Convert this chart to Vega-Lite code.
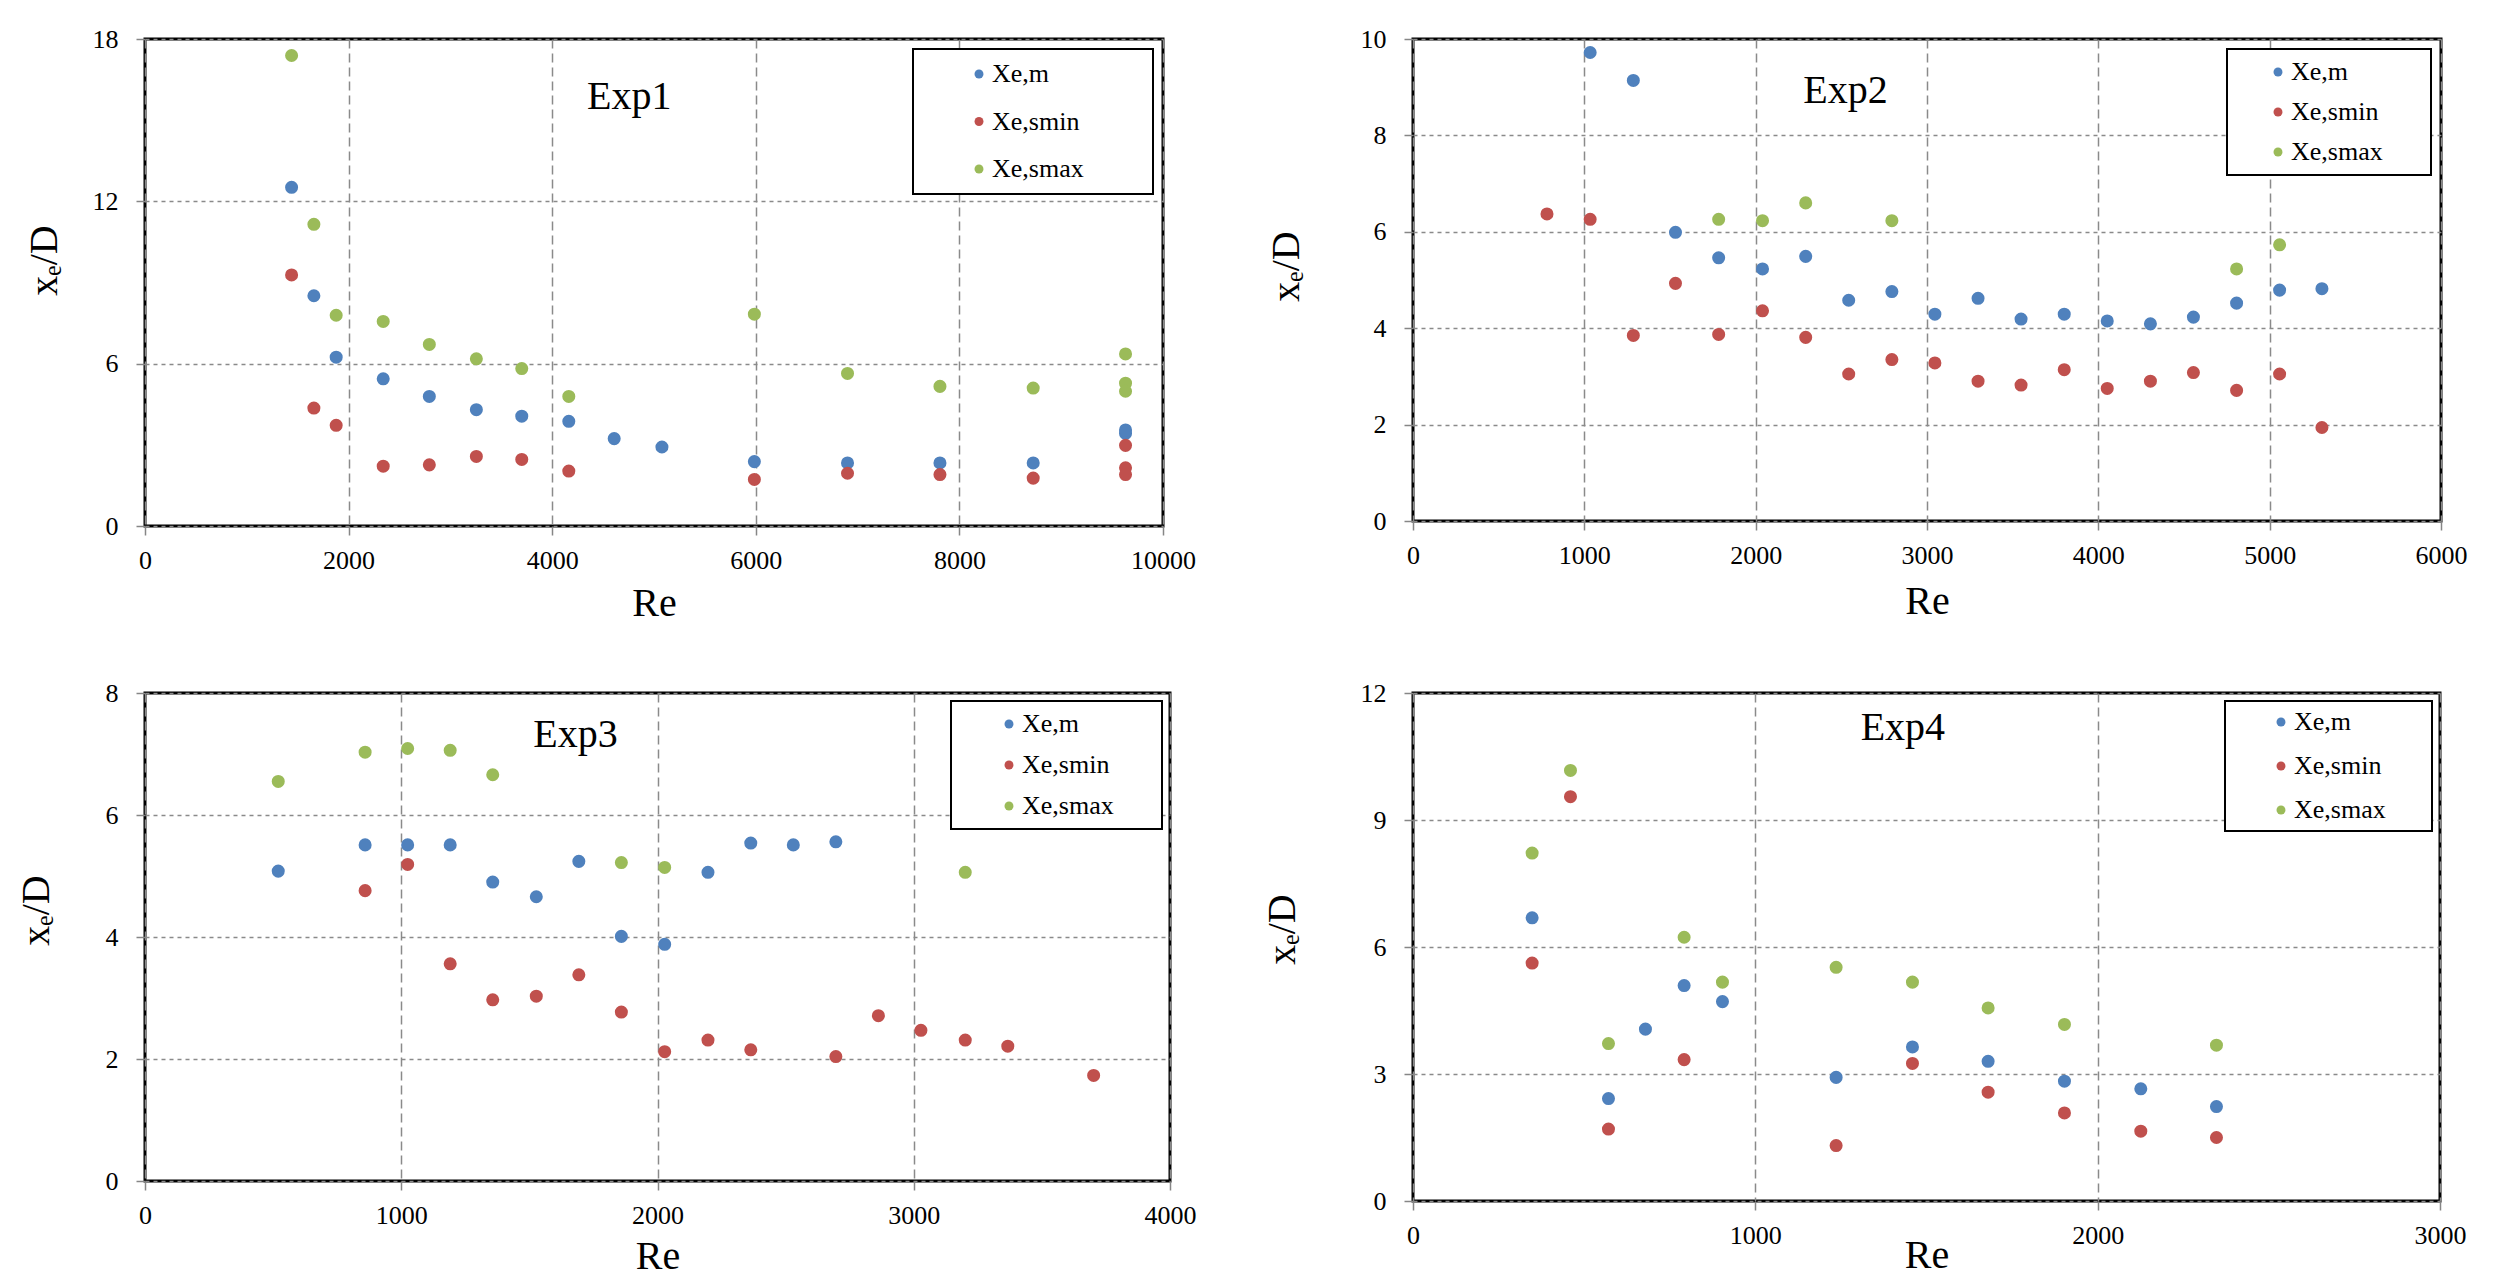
{
  "$schema": "https://vega.github.io/schema/vega-lite/v6.json",
  "background": "white",
  "padding": {"left": 14, "top": 24, "right": 10, "bottom": 5},
  "bounds": "flush",
  "columns": 2,
  "spacing": {"row": 167, "column": 243},
  "resolve": {"scale": {"color": "independent", "x": "independent", "y": "independent"}, "legend": {"color": "independent"}, "axis": {"x": "independent", "y": "independent"}},
  "datasets": {
    "pts": [
      {"exp": "Exp1", "series": "Xe,m", "Re": 1440, "xD": 12.52},
      {"exp": "Exp1", "series": "Xe,m", "Re": 1659, "xD": 8.51},
      {"exp": "Exp1", "series": "Xe,m", "Re": 1878, "xD": 6.24},
      {"exp": "Exp1", "series": "Xe,m", "Re": 2340, "xD": 5.44},
      {"exp": "Exp1", "series": "Xe,m", "Re": 2793, "xD": 4.79},
      {"exp": "Exp1", "series": "Xe,m", "Re": 3255, "xD": 4.30},
      {"exp": "Exp1", "series": "Xe,m", "Re": 3701, "xD": 4.06},
      {"exp": "Exp1", "series": "Xe,m", "Re": 4163, "xD": 3.87},
      {"exp": "Exp1", "series": "Xe,m", "Re": 4609, "xD": 3.23},
      {"exp": "Exp1", "series": "Xe,m", "Re": 5078, "xD": 2.92},
      {"exp": "Exp1", "series": "Xe,m", "Re": 5986, "xD": 2.38},
      {"exp": "Exp1", "series": "Xe,m", "Re": 6901, "xD": 2.33},
      {"exp": "Exp1", "series": "Xe,m", "Re": 7809, "xD": 2.33},
      {"exp": "Exp1", "series": "Xe,m", "Re": 8725, "xD": 2.33},
      {"exp": "Exp1", "series": "Xe,m", "Re": 9632, "xD": 3.42},
      {"exp": "Exp1", "series": "Xe,m", "Re": 9632, "xD": 3.55},
      {"exp": "Exp1", "series": "Xe,smin", "Re": 1440, "xD": 9.28},
      {"exp": "Exp1", "series": "Xe,smin", "Re": 1659, "xD": 4.36},
      {"exp": "Exp1", "series": "Xe,smin", "Re": 1878, "xD": 3.72},
      {"exp": "Exp1", "series": "Xe,smin", "Re": 2340, "xD": 2.21},
      {"exp": "Exp1", "series": "Xe,smin", "Re": 2793, "xD": 2.26},
      {"exp": "Exp1", "series": "Xe,smin", "Re": 3255, "xD": 2.57},
      {"exp": "Exp1", "series": "Xe,smin", "Re": 3701, "xD": 2.46},
      {"exp": "Exp1", "series": "Xe,smin", "Re": 4163, "xD": 2.03},
      {"exp": "Exp1", "series": "Xe,smin", "Re": 5986, "xD": 1.72},
      {"exp": "Exp1", "series": "Xe,smin", "Re": 6901, "xD": 1.95},
      {"exp": "Exp1", "series": "Xe,smin", "Re": 7809, "xD": 1.90},
      {"exp": "Exp1", "series": "Xe,smin", "Re": 8725, "xD": 1.77},
      {"exp": "Exp1", "series": "Xe,smin", "Re": 9632, "xD": 2.98},
      {"exp": "Exp1", "series": "Xe,smin", "Re": 9632, "xD": 2.15},
      {"exp": "Exp1", "series": "Xe,smin", "Re": 9632, "xD": 1.90},
      {"exp": "Exp1", "series": "Xe,smax", "Re": 1440, "xD": 17.39},
      {"exp": "Exp1", "series": "Xe,smax", "Re": 1659, "xD": 11.15},
      {"exp": "Exp1", "series": "Xe,smax", "Re": 1878, "xD": 7.79},
      {"exp": "Exp1", "series": "Xe,smax", "Re": 2340, "xD": 7.56},
      {"exp": "Exp1", "series": "Xe,smax", "Re": 2793, "xD": 6.71},
      {"exp": "Exp1", "series": "Xe,smax", "Re": 3255, "xD": 6.18},
      {"exp": "Exp1", "series": "Xe,smax", "Re": 3701, "xD": 5.82},
      {"exp": "Exp1", "series": "Xe,smax", "Re": 4163, "xD": 4.79},
      {"exp": "Exp1", "series": "Xe,smax", "Re": 5986, "xD": 7.83},
      {"exp": "Exp1", "series": "Xe,smax", "Re": 6901, "xD": 5.64},
      {"exp": "Exp1", "series": "Xe,smax", "Re": 7809, "xD": 5.16},
      {"exp": "Exp1", "series": "Xe,smax", "Re": 8725, "xD": 5.10},
      {"exp": "Exp1", "series": "Xe,smax", "Re": 9632, "xD": 6.36},
      {"exp": "Exp1", "series": "Xe,smax", "Re": 9632, "xD": 5.28},
      {"exp": "Exp1", "series": "Xe,smax", "Re": 9632, "xD": 4.98},

      {"exp": "Exp2", "series": "Xe,m", "Re": 1034, "xD": 9.72},
      {"exp": "Exp2", "series": "Xe,m", "Re": 1286, "xD": 9.14},
      {"exp": "Exp2", "series": "Xe,m", "Re": 1532, "xD": 5.99},
      {"exp": "Exp2", "series": "Xe,m", "Re": 1784, "xD": 5.46},
      {"exp": "Exp2", "series": "Xe,m", "Re": 2040, "xD": 5.23},
      {"exp": "Exp2", "series": "Xe,m", "Re": 2292, "xD": 5.49},
      {"exp": "Exp2", "series": "Xe,m", "Re": 2543, "xD": 4.58},
      {"exp": "Exp2", "series": "Xe,m", "Re": 2795, "xD": 4.76},
      {"exp": "Exp2", "series": "Xe,m", "Re": 3046, "xD": 4.29},
      {"exp": "Exp2", "series": "Xe,m", "Re": 3298, "xD": 4.62},
      {"exp": "Exp2", "series": "Xe,m", "Re": 3549, "xD": 4.19},
      {"exp": "Exp2", "series": "Xe,m", "Re": 3801, "xD": 4.29},
      {"exp": "Exp2", "series": "Xe,m", "Re": 4052, "xD": 4.15},
      {"exp": "Exp2", "series": "Xe,m", "Re": 4304, "xD": 4.09},
      {"exp": "Exp2", "series": "Xe,m", "Re": 4555, "xD": 4.23},
      {"exp": "Exp2", "series": "Xe,m", "Re": 4807, "xD": 4.52},
      {"exp": "Exp2", "series": "Xe,m", "Re": 5058, "xD": 4.79},
      {"exp": "Exp2", "series": "Xe,m", "Re": 5305, "xD": 4.82},
      {"exp": "Exp2", "series": "Xe,smin", "Re": 782, "xD": 6.37},
      {"exp": "Exp2", "series": "Xe,smin", "Re": 1034, "xD": 6.26},
      {"exp": "Exp2", "series": "Xe,smin", "Re": 1286, "xD": 3.85},
      {"exp": "Exp2", "series": "Xe,smin", "Re": 1532, "xD": 4.93},
      {"exp": "Exp2", "series": "Xe,smin", "Re": 1784, "xD": 3.87},
      {"exp": "Exp2", "series": "Xe,smin", "Re": 2040, "xD": 4.36},
      {"exp": "Exp2", "series": "Xe,smin", "Re": 2292, "xD": 3.81},
      {"exp": "Exp2", "series": "Xe,smin", "Re": 2543, "xD": 3.05},
      {"exp": "Exp2", "series": "Xe,smin", "Re": 2795, "xD": 3.35},
      {"exp": "Exp2", "series": "Xe,smin", "Re": 3046, "xD": 3.28},
      {"exp": "Exp2", "series": "Xe,smin", "Re": 3298, "xD": 2.90},
      {"exp": "Exp2", "series": "Xe,smin", "Re": 3549, "xD": 2.82},
      {"exp": "Exp2", "series": "Xe,smin", "Re": 3801, "xD": 3.14},
      {"exp": "Exp2", "series": "Xe,smin", "Re": 4052, "xD": 2.75},
      {"exp": "Exp2", "series": "Xe,smin", "Re": 4304, "xD": 2.90},
      {"exp": "Exp2", "series": "Xe,smin", "Re": 4555, "xD": 3.08},
      {"exp": "Exp2", "series": "Xe,smin", "Re": 4807, "xD": 2.71},
      {"exp": "Exp2", "series": "Xe,smin", "Re": 5058, "xD": 3.05},
      {"exp": "Exp2", "series": "Xe,smin", "Re": 5305, "xD": 1.94},
      {"exp": "Exp2", "series": "Xe,smax", "Re": 1784, "xD": 6.26},
      {"exp": "Exp2", "series": "Xe,smax", "Re": 2040, "xD": 6.23},
      {"exp": "Exp2", "series": "Xe,smax", "Re": 2292, "xD": 6.60},
      {"exp": "Exp2", "series": "Xe,smax", "Re": 2795, "xD": 6.23},
      {"exp": "Exp2", "series": "Xe,smax", "Re": 4807, "xD": 5.23},
      {"exp": "Exp2", "series": "Xe,smax", "Re": 5058, "xD": 5.73},

      {"exp": "Exp3", "series": "Xe,m", "Re": 520, "xD": 5.08},
      {"exp": "Exp3", "series": "Xe,m", "Re": 859, "xD": 5.51},
      {"exp": "Exp3", "series": "Xe,m", "Re": 1025, "xD": 5.51},
      {"exp": "Exp3", "series": "Xe,m", "Re": 1191, "xD": 5.51},
      {"exp": "Exp3", "series": "Xe,m", "Re": 1357, "xD": 4.90},
      {"exp": "Exp3", "series": "Xe,m", "Re": 1527, "xD": 4.66},
      {"exp": "Exp3", "series": "Xe,m", "Re": 1693, "xD": 5.24},
      {"exp": "Exp3", "series": "Xe,m", "Re": 1859, "xD": 4.01},
      {"exp": "Exp3", "series": "Xe,m", "Re": 2028, "xD": 3.88},
      {"exp": "Exp3", "series": "Xe,m", "Re": 2197, "xD": 5.06},
      {"exp": "Exp3", "series": "Xe,m", "Re": 2364, "xD": 5.54},
      {"exp": "Exp3", "series": "Xe,m", "Re": 2530, "xD": 5.51},
      {"exp": "Exp3", "series": "Xe,m", "Re": 2696, "xD": 5.56},
      {"exp": "Exp3", "series": "Xe,smin", "Re": 859, "xD": 4.76},
      {"exp": "Exp3", "series": "Xe,smin", "Re": 1025, "xD": 5.19},
      {"exp": "Exp3", "series": "Xe,smin", "Re": 1191, "xD": 3.56},
      {"exp": "Exp3", "series": "Xe,smin", "Re": 1357, "xD": 2.97},
      {"exp": "Exp3", "series": "Xe,smin", "Re": 1527, "xD": 3.03},
      {"exp": "Exp3", "series": "Xe,smin", "Re": 1693, "xD": 3.38},
      {"exp": "Exp3", "series": "Xe,smin", "Re": 1859, "xD": 2.77},
      {"exp": "Exp3", "series": "Xe,smin", "Re": 2028, "xD": 2.12},
      {"exp": "Exp3", "series": "Xe,smin", "Re": 2197, "xD": 2.31},
      {"exp": "Exp3", "series": "Xe,smin", "Re": 2364, "xD": 2.15},
      {"exp": "Exp3", "series": "Xe,smin", "Re": 2696, "xD": 2.04},
      {"exp": "Exp3", "series": "Xe,smin", "Re": 2862, "xD": 2.71},
      {"exp": "Exp3", "series": "Xe,smin", "Re": 3028, "xD": 2.47},
      {"exp": "Exp3", "series": "Xe,smin", "Re": 3201, "xD": 2.31},
      {"exp": "Exp3", "series": "Xe,smin", "Re": 3367, "xD": 2.21},
      {"exp": "Exp3", "series": "Xe,smin", "Re": 3702, "xD": 1.73},
      {"exp": "Exp3", "series": "Xe,smax", "Re": 520, "xD": 6.55},
      {"exp": "Exp3", "series": "Xe,smax", "Re": 859, "xD": 7.03},
      {"exp": "Exp3", "series": "Xe,smax", "Re": 1025, "xD": 7.09},
      {"exp": "Exp3", "series": "Xe,smax", "Re": 1191, "xD": 7.06},
      {"exp": "Exp3", "series": "Xe,smax", "Re": 1357, "xD": 6.66},
      {"exp": "Exp3", "series": "Xe,smax", "Re": 1859, "xD": 5.22},
      {"exp": "Exp3", "series": "Xe,smax", "Re": 2028, "xD": 5.14},
      {"exp": "Exp3", "series": "Xe,smax", "Re": 3201, "xD": 5.06},

      {"exp": "Exp4", "series": "Xe,m", "Re": 348, "xD": 6.69},
      {"exp": "Exp4", "series": "Xe,m", "Re": 571, "xD": 2.42},
      {"exp": "Exp4", "series": "Xe,m", "Re": 679, "xD": 4.06},
      {"exp": "Exp4", "series": "Xe,m", "Re": 792, "xD": 5.09},
      {"exp": "Exp4", "series": "Xe,m", "Re": 904, "xD": 4.71},
      {"exp": "Exp4", "series": "Xe,m", "Re": 1236, "xD": 2.92},
      {"exp": "Exp4", "series": "Xe,m", "Re": 1459, "xD": 3.64},
      {"exp": "Exp4", "series": "Xe,m", "Re": 1680, "xD": 3.30},
      {"exp": "Exp4", "series": "Xe,m", "Re": 1903, "xD": 2.83},
      {"exp": "Exp4", "series": "Xe,m", "Re": 2126, "xD": 2.65},
      {"exp": "Exp4", "series": "Xe,m", "Re": 2347, "xD": 2.23},
      {"exp": "Exp4", "series": "Xe,smin", "Re": 348, "xD": 5.62},
      {"exp": "Exp4", "series": "Xe,smin", "Re": 460, "xD": 9.55},
      {"exp": "Exp4", "series": "Xe,smin", "Re": 571, "xD": 1.70},
      {"exp": "Exp4", "series": "Xe,smin", "Re": 792, "xD": 3.34},
      {"exp": "Exp4", "series": "Xe,smin", "Re": 1236, "xD": 1.31},
      {"exp": "Exp4", "series": "Xe,smin", "Re": 1459, "xD": 3.25},
      {"exp": "Exp4", "series": "Xe,smin", "Re": 1680, "xD": 2.57},
      {"exp": "Exp4", "series": "Xe,smin", "Re": 1903, "xD": 2.08},
      {"exp": "Exp4", "series": "Xe,smin", "Re": 2126, "xD": 1.65},
      {"exp": "Exp4", "series": "Xe,smin", "Re": 2347, "xD": 1.50},
      {"exp": "Exp4", "series": "Xe,smax", "Re": 348, "xD": 8.22},
      {"exp": "Exp4", "series": "Xe,smax", "Re": 460, "xD": 10.17},
      {"exp": "Exp4", "series": "Xe,smax", "Re": 571, "xD": 3.72},
      {"exp": "Exp4", "series": "Xe,smax", "Re": 792, "xD": 6.23},
      {"exp": "Exp4", "series": "Xe,smax", "Re": 904, "xD": 5.17},
      {"exp": "Exp4", "series": "Xe,smax", "Re": 1236, "xD": 5.52},
      {"exp": "Exp4", "series": "Xe,smax", "Re": 1459, "xD": 5.17},
      {"exp": "Exp4", "series": "Xe,smax", "Re": 1680, "xD": 4.56},
      {"exp": "Exp4", "series": "Xe,smax", "Re": 1903, "xD": 4.17},
      {"exp": "Exp4", "series": "Xe,smax", "Re": 2347, "xD": 3.68}
    ]
  },
  "concat": [
    {
      "width": 1018,
      "height": 487,
      "layer": [
        {
          "data": {"name": "pts"},
          "transform": [{"filter": "datum.exp === 'Exp1'"}],
          "mark": {"type": "point", "filled": true, "opacity": 1, "size": 170},
          "encoding": {
            "x": {"field": "Re", "type": "quantitative", "scale": {"domain": [0, 10000], "nice": false},
                  "axis": {"values": [0, 2000, 4000, 6000, 8000, 10000], "format": "d", "title": "Re", "titleY": 77}},
            "y": {"field": "xD", "type": "quantitative", "scale": {"domain": [0, 18], "nice": false},
                  "axis": {"values": [0, 6, 12, 18], "format": "d", "title": "xₑ/D", "titleX": -101, "titleY": 221}},
            "color": {"field": "series", "type": "nominal",
                      "scale": {"domain": ["Xe,m", "Xe,smin", "Xe,smax"], "range": ["#4F81BD", "#C0504D", "#9BBB59"]},
                      "legend": {"orient": "top-right", "offset": 10, "padding": 12, "rowPadding": 21.5, "symbolOffset": 41, "labelOffset": 0, "labelFontSize": 26, "labelExpr": "datum.label + '\u2800\u2800\u2800'", "title": null}}
          }
        },
        {
          "data": {"values": [{"label": "Exp1"}]},
          "mark": {"type": "text", "fontSize": 40, "font": "Liberation Serif", "color": "#000", "baseline": "middle"},
          "encoding": {"x": {"datum": 4757}, "y": {"datum": 15.85}, "text": {"field": "label"}}
        }
      ]
    },
    {
      "width": 1028,
      "height": 482,
      "layer": [
        {
          "data": {"name": "pts"},
          "transform": [{"filter": "datum.exp === 'Exp2'"}],
          "mark": {"type": "point", "filled": true, "opacity": 1, "size": 170},
          "encoding": {
            "x": {"field": "Re", "type": "quantitative", "scale": {"domain": [0, 6000], "nice": false},
                  "axis": {"values": [0, 1000, 2000, 3000, 4000, 5000, 6000], "format": "d", "title": "Re", "titleY": 80}},
            "y": {"field": "xD", "type": "quantitative", "scale": {"domain": [0, 10], "nice": false},
                  "axis": {"values": [0, 2, 4, 6, 8, 10], "format": "d", "title": "xₑ/D", "titleX": -127, "titleY": 227}},
            "color": {"field": "series", "type": "nominal",
                      "scale": {"domain": ["Xe,m", "Xe,smin", "Xe,smax"], "range": ["#4F81BD", "#C0504D", "#9BBB59"]},
                      "legend": {"orient": "top-right", "offset": 10, "padding": 10, "rowPadding": 14, "symbolOffset": 28, "labelOffset": 0, "labelFontSize": 26, "labelExpr": "datum.label + '\u2800\u2800'", "title": null}}
          }
        },
        {
          "data": {"values": [{"label": "Exp2"}]},
          "mark": {"type": "text", "fontSize": 40, "font": "Liberation Serif", "color": "#000", "baseline": "middle"},
          "encoding": {"x": {"datum": 2524}, "y": {"datum": 8.92}, "text": {"field": "label"}}
        }
      ]
    },
    {
      "width": 1025,
      "height": 488,
      "layer": [
        {
          "data": {"name": "pts"},
          "transform": [{"filter": "datum.exp === 'Exp3'"}],
          "mark": {"type": "point", "filled": true, "opacity": 1, "size": 170},
          "encoding": {
            "x": {"field": "Re", "type": "quantitative", "scale": {"domain": [0, 4000], "nice": false},
                  "axis": {"values": [0, 1000, 2000, 3000, 4000], "format": "d", "title": "Re", "titleY": 75}},
            "y": {"field": "xD", "type": "quantitative", "scale": {"domain": [0, 8], "nice": false},
                  "axis": {"values": [0, 2, 4, 6, 8], "format": "d", "title": "xₑ/D", "titleX": -109, "titleY": 217}},
            "color": {"field": "series", "type": "nominal",
                      "scale": {"domain": ["Xe,m", "Xe,smin", "Xe,smax"], "range": ["#4F81BD", "#C0504D", "#9BBB59"]},
                      "legend": {"orient": "top-right", "offset": 8, "padding": 10, "rowPadding": 15, "symbolOffset": 35, "labelOffset": 0, "labelFontSize": 26, "labelExpr": "datum.label + '\u2800\u2800'", "title": null}}
          }
        },
        {
          "data": {"values": [{"label": "Exp3"}]},
          "mark": {"type": "text", "fontSize": 40, "font": "Liberation Serif", "color": "#000", "baseline": "middle"},
          "encoding": {"x": {"datum": 1680}, "y": {"datum": 7.31}, "text": {"field": "label"}}
        }
      ]
    },
    {
      "width": 1027,
      "height": 508,
      "layer": [
        {
          "data": {"name": "pts"},
          "transform": [{"filter": "datum.exp === 'Exp4'"}],
          "mark": {"type": "point", "filled": true, "opacity": 1, "size": 170},
          "encoding": {
            "x": {"field": "Re", "type": "quantitative", "scale": {"domain": [0, 3000], "nice": false},
                  "axis": {"values": [0, 1000, 2000, 3000], "format": "d", "title": "Re", "titleY": 54}},
            "y": {"field": "xD", "type": "quantitative", "scale": {"domain": [0, 12], "nice": false},
                  "axis": {"values": [0, 3, 6, 9, 12], "format": "d", "title": "xₑ/D", "titleX": -131, "titleY": 236}},
            "color": {"field": "series", "type": "nominal",
                      "scale": {"domain": ["Xe,m", "Xe,smin", "Xe,smax"], "range": ["#4F81BD", "#C0504D", "#9BBB59"]},
                      "legend": {"orient": "top-right", "offset": 8, "padding": 8, "rowPadding": 18, "symbolOffset": 35, "labelOffset": 0, "labelFontSize": 26, "labelExpr": "datum.label + '\u2800\u2800'", "title": null}}
          }
        },
        {
          "data": {"values": [{"label": "Exp4"}]},
          "mark": {"type": "text", "fontSize": 40, "font": "Liberation Serif", "color": "#000", "baseline": "middle"},
          "encoding": {"x": {"datum": 1431}, "y": {"datum": 11.17}, "text": {"field": "label"}}
        }
      ]
    }
  ],
  "config": {
    "font": "Liberation Serif",
    "view": {"stroke": "#000", "strokeWidth": 3},
    "axis": {
      "domain": false,
      "tickColor": "#868686",
      "tickSize": 9,
      "tickWidth": 1.5,
      "labelFont": "Liberation Serif",
      "labelFontSize": 26,
      "labelColor": "#000",
      "labelFlush": false,
      "labelOverlap": false,
      "titleFont": "Liberation Serif",
      "titleFontSize": 40,
      "titleFontWeight": "normal",
      "titleColor": "#000",
      "titleBaseline": "middle",
      "titleAlign": "center",
      "gridColor": "#8a8a8a",
      "gridWidth": 1.5
    },
    "axisX": {"gridDash": [9, 5], "labelPadding": 12},
    "axisY": {"gridDash": [4, 4], "labelPadding": 18},
    "legend": {
      "strokeColor": "#000",
      "strokeWidth": 2,
      "fillColor": "#fff",
      "symbolType": "circle",
      "symbolSize": 80,
      "symbolStrokeWidth": 0,
      "labelFont": "Liberation Serif",
      "labelColor": "#000"
    }
  }
}
